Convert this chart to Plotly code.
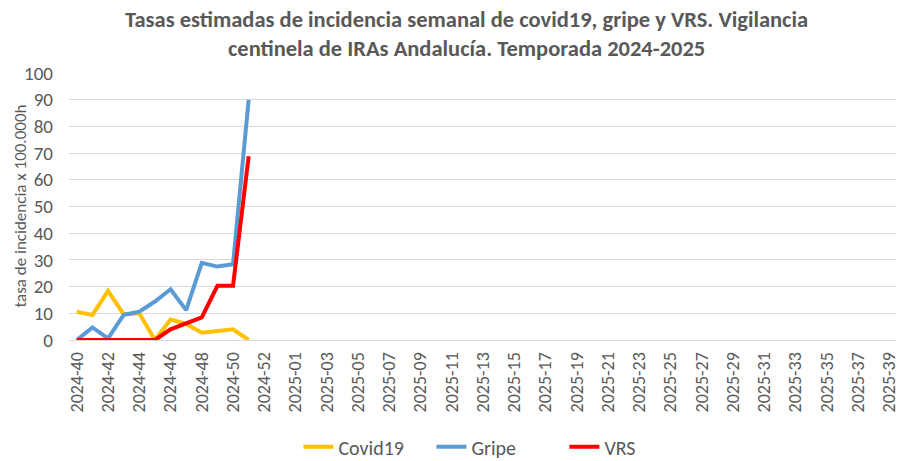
import plotly.graph_objects as go

weeks = [f"2024-{w}" for w in range(40, 54)] + [f"2025-{w:02d}" for w in range(1, 40)]
tick_labels = weeks[::2]

covid19 = [10.6, 9.4, 18.4, 9.6, 10.0, 0.0, 7.7, 6.0, 2.7, 3.5, 4.0, 0.0]
gripe = [0.0, 4.7, 0.6, 9.4, 10.6, 14.4, 19.0, 11.2, 28.9, 27.5, 28.4, 90.0]
vrs = [0.0, 0.0, 0.0, 0.0, 0.0, 0.0, 4.0, 6.2, 8.5, 20.3, 20.3, 68.8]

title_lines = [
    "Tasas estimadas de incidencia semanal de covid19, gripe y VRS. Vigilancia",
    "centinela de IRAs Andalucía. Temporada 2024-2025",
]

FONT = "Carlito, Lato, sans-serif"
GREY = "#595959"

fig = go.Figure()
for name, values, color in (("Covid19", covid19, "#FFC000"), ("Gripe", gripe, "#5B9BD5"), ("VRS", vrs, "#FF0000")):
    fig.add_trace(
        go.Scatter(
            x=weeks[: len(values)],
            y=values,
            mode="lines",
            name=name,
            line=dict(color=color, width=4),
        )
    )

# the page body has an 8px margin, so positions are shifted up/left by 8px
PLOT_LEFT, PLOT_RIGHT = 61, 15
PLOT_TOP, PLOT_H = 65, 267
plot_w = 904 - PLOT_LEFT - PLOT_RIGHT

annotations = [
    dict(
        text="<b>" + "<br>".join(title_lines) + "</b>",
        x=(458 - PLOT_LEFT) / plot_w,
        xref="paper",
        y=1 + (PLOT_TOP - 26.5) / PLOT_H,
        yref="paper",
        xanchor="center",
        yanchor="middle",
        showarrow=False,
        font=dict(family=FONT, size=22.5, color=GREY),
    ),
    dict(
        text="tasa de incidencia x 100.000h",
        x=(12 - PLOT_LEFT) / plot_w,
        xref="paper",
        y=0.5,
        yref="paper",
        xanchor="center",
        yanchor="middle",
        textangle=-90,
        showarrow=False,
        font=dict(size=17, color=GREY),
    ),
]

fig.update_layout(
    width=904,
    height=461,
    paper_bgcolor="white",
    plot_bgcolor="white",
    font=dict(family=FONT, color=GREY, size=18),
    margin=dict(l=PLOT_LEFT, r=PLOT_RIGHT, t=PLOT_TOP, b=461 - PLOT_TOP - PLOT_H, autoexpand=False),
    showlegend=True,
    legend=dict(
        orientation="h",
        x=0.518,
        xanchor="center",
        y=-0.4,
        yanchor="middle",
        entrywidth=88,
        font=dict(size=20, color=GREY),
    ),
    annotations=annotations,
)
fig.update_xaxes(
    type="category",
    categoryorder="array",
    categoryarray=weeks,
    range=[-0.5, len(weeks) - 0.5],
    tickmode="array",
    tickvals=tick_labels,
    ticktext=tick_labels,
    tickangle=-90,
    tickfont=dict(size=18, color=GREY),
    ticklabelstandoff=4,
    showgrid=False,
    showline=True,
    linecolor="#d9d9d9",
    linewidth=1,
    ticks="",
    automargin=False,
)
fig.update_yaxes(
    range=[0, 100],
    dtick=10,
    tickfont=dict(size=19, color=GREY),
    ticklabelstandoff=15,
    gridcolor="#d9d9d9",
    gridwidth=1,
    zeroline=False,
    ticks="",
    automargin=False,
)

fig.write_html("out.html")
